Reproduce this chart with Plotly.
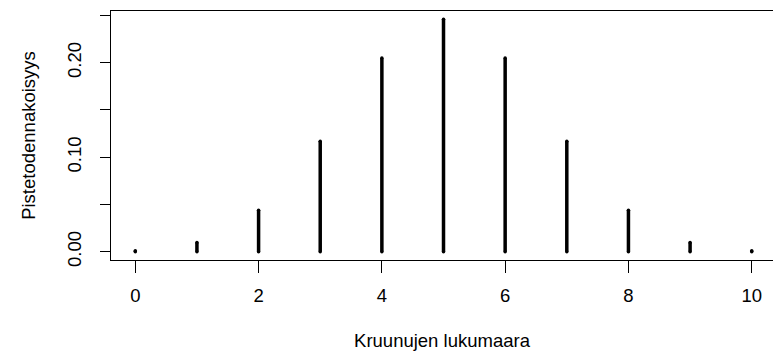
import plotly.graph_objects as go

# Data: point probabilities of number of heads in 10 coin tosses
counts = [0, 1, 2, 3, 4, 5, 6, 7, 8, 9, 10]
probs = [0.000977, 0.00977, 0.0439, 0.117, 0.205, 0.246, 0.205, 0.117, 0.0439, 0.00977, 0.000977]

x_tick_vals = [0, 2, 4, 6, 8, 10]
y_tick_vals = [0.0, 0.05, 0.10, 0.15, 0.20, 0.25]
y_tick_text = ["0.00", "", "0.10", "", "0.20", ""]

x_title = "Kruunujen lukumaara"
y_title = "Pistetodennakoisyys"

# build vertical segments (type = "h")
seg_x, seg_y = [], []
for k, p in zip(counts, probs):
    seg_x += [k, k, None]
    seg_y += [0, p, None]

font = dict(family="Liberation Sans, Arial, Helvetica, sans-serif", size=18.5, color="black")

fig = go.Figure()
fig.add_trace(go.Scatter(x=seg_x, y=seg_y, mode="lines",
                         line=dict(color="black", width=3.5),
                         hoverinfo="skip", showlegend=False))
# round caps at both ends
fig.add_trace(go.Scatter(x=counts + counts, y=[0] * len(counts) + probs, mode="markers",
                         marker=dict(color="black", size=3.5, line=dict(width=0)),
                         hoverinfo="skip", showlegend=False))

fig.update_layout(
    width=773, height=351,
    margin=dict(l=111, r=0, t=11, b=91),
    paper_bgcolor="white", plot_bgcolor="white",
    font=font,
    xaxis=dict(range=[-0.394, 10.345], tickvals=x_tick_vals, automargin=False,
               ticks="outside", ticklen=12, tickwidth=1, tickcolor="black",
               ticklabelstandoff=7,
               showline=True, linecolor="black", linewidth=1, mirror=True,
               showgrid=False, zeroline=False, tickfont=font,
               title=dict(text=x_title, font=font, standoff=37)),
    yaxis=dict(range=[-0.00878, 0.2547], tickvals=y_tick_vals, ticktext=y_tick_text,
               tickangle=-90, automargin=False,
               ticks="outside", ticklen=10, tickwidth=1, tickcolor="black",
               ticklabelstandoff=12,
               showline=True, linecolor="black", linewidth=1, mirror=False,
               showgrid=False, zeroline=False, tickfont=font,
               title=dict(text=y_title, font=font, standoff=23)),
)

fig.write_html("out.html", config={"displayModeBar": False},
               post_script="document.body.style.margin='0';document.body.style.overflow='hidden';")
